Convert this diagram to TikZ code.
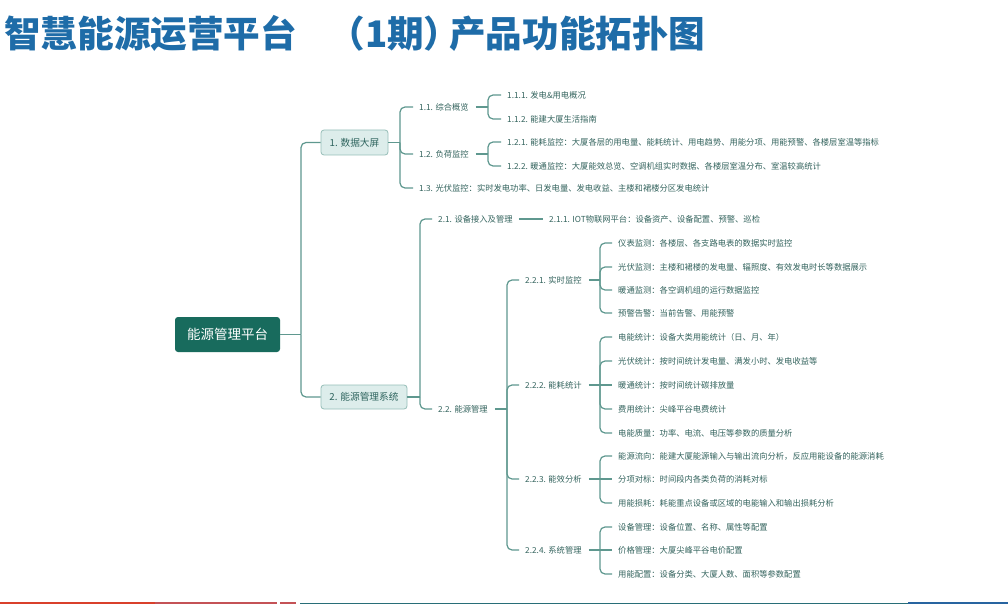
\documentclass[tikz,border=0pt]{standalone}
\usepackage{fontspec}
\setmainfont{Noto Sans CJK SC}
\usetikzlibrary{calc}
\definecolor{titlec}{RGB}{30,108,168}
\definecolor{linec}{RGB}{95,152,143}
\definecolor{textc}{RGB}{52,100,94}
\definecolor{rootc}{RGB}{24,107,93}
\definecolor{boxfill}{RGB}{221,237,235}
\definecolor{boxdraw}{RGB}{150,190,184}
\definecolor{boxtext}{RGB}{46,100,94}
\definecolor{stripred}{RGB}{217,64,43}
\definecolor{stripred2}{RGB}{196,82,86}
\definecolor{stripteal}{RGB}{40,110,120}
\definecolor{stripblue}{RGB}{40,100,160}
\begin{document}
\begin{tikzpicture}[x=1pt,y=-1pt,
  conn/.style={draw=linec, line width=1.2pt, rounded corners=5pt},
  lbl/.style={anchor=west, inner sep=0pt, font=\fontsize{8.3}{10}\selectfont, text=textc},
  lvlbox/.style={draw=boxdraw, fill=boxfill, line width=0.8pt, rounded corners=3pt, inner sep=0pt, text=boxtext, font=\fontsize{9.7}{12}\selectfont},
  rootbox/.style={fill=rootc, rounded corners=3pt, inner sep=0pt, text=white, font=\fontsize{13.5}{16}\selectfont, minimum width=105pt, minimum height=35pt},
  titletext/.style={inner sep=0pt, text=titlec, font=\fontsize{36.6}{40}\selectfont\bfseries},
  stem/.style={conn, shorten <=7pt},
  twig/.style={conn, shorten >=6pt}]
\useasboundingbox (0,0) rectangle (1008,604);
\fill[white] (0,0) rectangle (1008,604);

% title
\node[titletext, anchor=west] (title1) at (4,33.5) {智慧能源运营平台};
\node[titletext, anchor=center] (title2) at (394.5,33.5) {（1期）};
\node[titletext, anchor=west] (title3) at (449,33.5) {产品功能拓扑图};

% root and level 1
\node[rootbox] (root) at (227.5,334.5) {能源管理平台};
\node[lvlbox, minimum width=67pt, minimum height=25pt] (b1) at (354.5,142.5) {1. 数据大屏};
\node[lvlbox, minimum width=86pt, minimum height=24pt] (b2) at (364,397) {2. 能源管理系统};

\coordinate (jr) at (301,334.5);
\draw[conn] (root.east) -- (jr);
\draw[conn] (jr) |- (b1.west);
\draw[conn] (jr) |- (b2.west);

% branch 1
\node[lbl] (n11) at (419,107) {1.1. 综合概览};
\node[lbl] (n12) at (419,154) {1.2. 负荷监控};
\node[lbl] (n13) at (419,188) {1.3. 光伏监控：实时发电功率、日发电量、发电收益、主楼和裙楼分区发电统计};
\coordinate (j1) at (400,142.5);
\draw[conn] (b1.east) -- (j1);
\draw[twig] (j1) |- (n11.west);
\draw[twig] (j1) |- (n12.west);
\draw[twig] (j1) |- (n13.west);

\node[lbl] (n111) at (507,95) {1.1.1. 发电\&用电概况};
\node[lbl] (n112) at (507,119) {1.1.2. 能建大厦生活指南};
\coordinate (j11) at (488,107);
\draw[stem] (n11.east) -- (j11);
\draw[twig] (j11) |- (n111.west);
\draw[twig] (j11) |- (n112.west);

\node[lbl] (n121) at (507,142) {1.2.1. 能耗监控：大厦各层的用电量、能耗统计、用电趋势、用能分项、用能预警、各楼层室温等指标};
\node[lbl] (n122) at (507,166) {1.2.2. 暖通监控：大厦能效总览、空调机组实时数据、各楼层室温分布、室温较高统计};
\coordinate (j12) at (488,154);
\draw[stem] (n12.east) -- (j12);
\draw[twig] (j12) |- (n121.west);
\draw[twig] (j12) |- (n122.west);

% branch 2
\node[lbl] (n21) at (438,219) {2.1. 设备接入及管理};
\node[lbl] (n22) at (438,409) {2.2. 能源管理};
\coordinate (j2) at (420,397);
\draw[conn] (b2.east) -- (j2);
\draw[twig] (j2) |- (n21.west);
\draw[twig] (j2) |- (n22.west);

\node[lbl] (n211) at (549,219) {2.1.1. IOT物联网平台：设备资产、设备配置、预警、巡检};
\draw[conn, shorten <=6pt, shorten >=6pt] (n21.east) -- (n211.west);

\node[lbl] (n221) at (525,280) {2.2.1. 实时监控};
\node[lbl] (n222) at (525,385) {2.2.2. 能耗统计};
\node[lbl] (n223) at (525,479) {2.2.3. 能效分析};
\node[lbl] (n224) at (525,550) {2.2.4. 系统管理};
\coordinate (j22) at (507,409);
\draw[stem] (n22.east) -- (j22);
\draw[twig] (j22) |- (n221.west);
\draw[twig] (j22) |- (n222.west);
\draw[twig] (j22) |- (n223.west);
\draw[twig] (j22) |- (n224.west);

% 2.2.1 children
\node[lbl] (a1) at (618,243) {仪表监测：各楼层、各支路电表的数据实时监控};
\node[lbl] (a2) at (618,267) {光伏监测：主楼和裙楼的发电量、辐照度、有效发电时长等数据展示};
\node[lbl] (a3) at (618,290) {暖通监测：各空调机组的运行数据监控};
\node[lbl] (a4) at (618,313) {预警告警：当前告警、用能预警};
\coordinate (ja) at (600,280);
\draw[stem] (n221.east) -- (ja);
\foreach \c in {a1,a2,a3,a4} \draw[twig] (ja) |- (\c.west);

% 2.2.2 children
\node[lbl] (b21) at (618,337) {电能统计：设备大类用能统计（日、月、年）};
\node[lbl] (b22) at (618,361) {光伏统计：按时间统计发电量、满发小时、发电收益等};
\node[lbl] (b23) at (618,385) {暖通统计：按时间统计碳排放量};
\node[lbl] (b24) at (618,409) {费用统计：尖峰平谷电费统计};
\node[lbl] (b25) at (618,433) {电能质量：功率、电流、电压等参数的质量分析};
\coordinate (jb) at (600,385);
\draw[stem] (n222.east) -- (jb);
\foreach \c in {b21,b22,b24,b25} \draw[twig] (jb) |- (\c.west);
\draw[twig] (jb) -- (b23.west);

% 2.2.3 children
\node[lbl] (c1) at (618,456) {能源流向：能建大厦能源输入与输出流向分析，反应用能设备的能源消耗};
\node[lbl] (c2) at (618,479) {分项对标：时间段内各类负荷的消耗对标};
\node[lbl] (c3) at (618,503) {用能损耗：耗能重点设备或区域的电能输入和输出损耗分析};
\coordinate (jc) at (600,479);
\draw[stem] (n223.east) -- (jc);
\draw[twig] (jc) |- (c1.west);
\draw[twig] (jc) -- (c2.west);
\draw[twig] (jc) |- (c3.west);

% 2.2.4 children
\node[lbl] (d1) at (618,527) {设备管理：设备位置、名称、属性等配置};
\node[lbl] (d2) at (618,550) {价格管理：大厦尖峰平谷电价配置};
\node[lbl] (d3) at (618,574) {用能配置：设备分类、大厦人数、面积等参数配置};
\coordinate (jd) at (600,550);
\draw[stem] (n224.east) -- (jd);
\draw[twig] (jd) |- (d1.west);
\draw[twig] (jd) -- (d2.west);
\draw[twig] (jd) |- (d3.west);

% bottom strip
\fill[stripred] (0,601.5) rectangle (155,604);
\fill[stripred2] (155,601.5) rectangle (277,604);
\fill[stripred2] (280,601.5) rectangle (296,604);
\fill[stripteal] (300,602.5) rectangle (1008,604);
\fill[stripblue] (908,601.5) rectangle (1008,604);
\end{tikzpicture}
\end{document}
